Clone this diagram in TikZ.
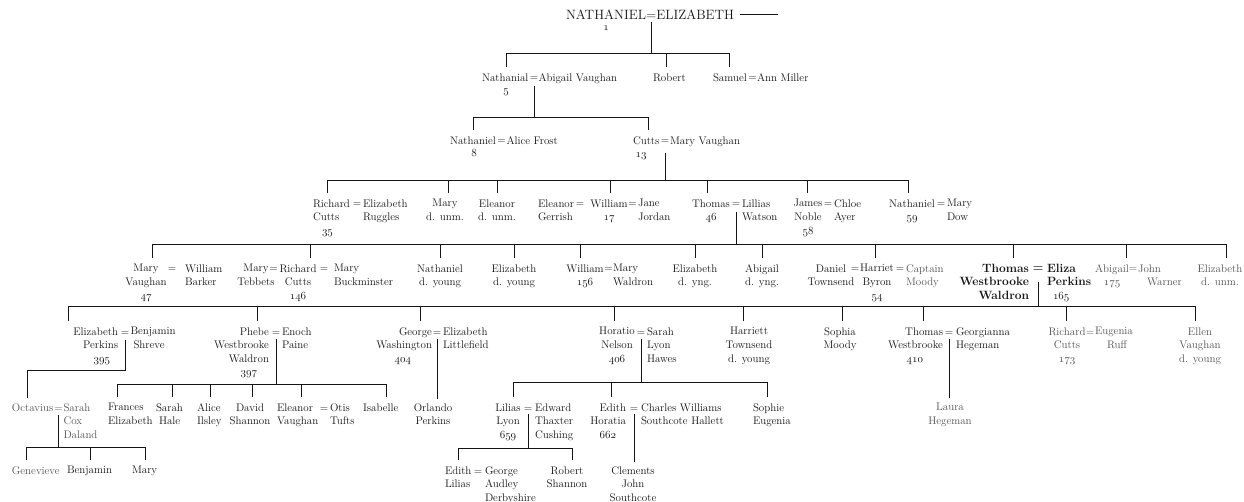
\documentclass[tikz,border=0pt]{standalone}
\colorlet{ink}{black!92}
\colorlet{faint}{black!68}
\newcommand\nf{\fontsize{11}{13.6}\selectfont}
\newcommand\bnf{\fontsize{12}{13.6}\selectfont\bfseries}
\newcommand\osn[1]{$\mathnormal{#1}$}
% a drop line from a bus point down to a child's name
\newcommand\kidline[3]{\coordinate (#1) at (#2);\draw[link,shorten >=6pt] (#1) -- (#1 |- #3.north);}
% a descent line from a marriage sign down to the level of a bus
\newcommand\eqdown[3]{\draw[link,shorten <=#1pt] (#2.south) -- (#2.south |- #3);}
\begin{document}
\begin{tikzpicture}[x=1pt,y=-1pt,
  every node/.style={inner sep=0pt, outer sep=0pt, font=\nf, text=ink},
  % name blocks: placed by the baseline of their first line
  pw/.style={anchor=north west, align=left, yshift=7.6pt},
  pc/.style={anchor=north, align=center, yshift=7.6pt},
  pe/.style={anchor=north east, align=right, yshift=7.6pt},
  bold/.style={font=\bnf, yshift=0.7pt},
  eq/.style={anchor=base},
  num/.style={anchor=base},
  pale/.style={text=faint},
  caps/.style={font=\fontsize{13.5}{15}\selectfont},
  link/.style={draw=ink, line width=0.8pt}]
\fill[white] (0,0) rectangle (1244,502);
\useasboundingbox (0,0) rectangle (1244,502);

% ---------- generation 1
\node[caps,anchor=base west] (topH) at (566,19.5) {NATHANIEL};
\node[caps,anchor=base west] (topEq) at (topH.base east) {=};
\node[caps,anchor=base west] (topW) at (topEq.base east) {ELIZABETH};
\node[num] (one) at (606,31) {\osn{1}};
\coordinate (topEnd) at (778,0);
\draw[link] ([xshift=6pt]topW.east) -- (topEnd |- topW.east);

% ---------- generation 2
\node[pw] (nath1) at (482,81) {Nathanial};
\node[eq] (e1) at (534,81) {=};
\node[pw] (abig) at (538.5,81) {Abigail Vaughan};
\node[num] (n5) at (506,94) {\osn{5}};
\node[pw] (robert) at (653,81) {Robert};
\node[pw] (samuel) at (713,81) {Samuel};
\node[eq] (e2) at (752.5,81) {=};
\node[pw] (ann) at (757,81) {Ann Miller};

% ---------- generation 3
\node[pw] (nath2) at (450,144) {Nathaniel};
\node[eq] (e3) at (501.5,144) {=};
\node[pw] (alice) at (506.5,144) {Alice Frost};
\node[num] (n8) at (474,157) {\osn{8}};
\node[pw] (cutts) at (633,144) {Cutts};
\node[eq] (e4) at (665,144) {=};
\node[pw] (maryV) at (670,144) {Mary Vaughan};
\node[num] (n13) at (641,158) {\osn{13}};

% ---------- generation 4
\node[pw] (rich) at (313,207) {Richard\\Cutts\\\hspace*{9pt}\osn{35}};
\node[eq] (e5) at (357,207) {=};
\node[pw] (elizR) at (363,207) {Elizabeth\\Ruggles};
\node[pc] (maryU) at (445,207) {Mary\\d. unm.};
\node[pc] (eleU) at (497,207) {Eleanor\\d. unm.};
\node[pw] (eleG) at (538,207) {Eleanor\\Gerrish};
\node[eq] (e6) at (580,207) {=};
\node[pc] (william) at (609,207) {William\\\osn{17}};
\node[eq] (e7) at (632.5,207) {=};
\node[pw] (jane) at (638,207) {Jane\\Jordan};
\node[pc] (thomL) at (711,207) {Thomas\\\osn{46}};
\node[eq] (e8) at (736,207) {=};
\node[pw] (lill) at (742,207) {Lillias\\Watson};
\node[pc] (james) at (808,207) {James\\Noble\\\osn{58}};
\node[eq] (e9) at (828,207) {=};
\node[pw] (chloe) at (834,207) {Chloe\\Ayer};
\node[pc] (nathM) at (912,207) {Nathaniel\\\osn{59}};
\node[eq] (e10) at (941,207) {=};
\node[pw] (maryD) at (947,207) {Mary\\Dow};

% ---------- generation 5
\node[pc] (maryVa) at (146,272) {Mary\\Vaughan\\\osn{47}};
\node[eq] (e11) at (172,272) {=};
\node[pw] (willB) at (185,272) {William\\Barker};
\node[pc] (maryT) at (256,272) {Mary\\Tebbets};
\node[eq] (e12) at (273.5,272) {=};
\node[pc] (richC) at (298,272) {Richard\\Cutts\\\osn{146}};
\node[eq] (e13) at (324,272) {=};
\node[pw] (maryB) at (334,272) {Mary\\Buckminster};
\node[pc] (nathY) at (440,272) {Nathaniel\\d. young};
\node[pc] (elizY) at (514,272) {Elizabeth\\d. young};
\node[pc] (willW) at (585,272) {William\\\osn{156}};
\node[eq] (e14) at (608.5,272) {=};
\node[pw] (maryW) at (613,272) {Mary\\Waldron};
\node[pc] (elizYng) at (695,272) {Elizabeth\\d. yng.};
\node[pc] (abigYng) at (762,272) {Abigail\\d. yng.};
\node[pc] (daniel) at (831,272) {Daniel\\Townsend};
\node[eq] (e15) at (855,272) {=};
\node[pc] (harriet) at (877,272) {Harriet\\Byron\\\osn{54}};
\node[eq] (e16) at (900,272) {=};
\node[pw,pale] (capt) at (906,272) {Captain\\Moody};
\node[pe,bold] (thomW) at (1029,272) {Thomas\\Westbrooke\\Waldron};
\node[eq,font=\bnf] (e17) at (1038,272) {=};
\node[pw,bold] (eliza) at (1047,272) {Eliza\\Perkins\\{\nf\mdseries\hspace*{6pt}\osn{165}}};
\node[pc,pale] (abigW) at (1112,272) {Abigail\\\osn{175}};
\node[eq,pale] (e18) at (1133,272) {=};
\node[pw,pale] (john) at (1138,272) {John\\\hspace*{9pt}Warner};
\node[pc,pale] (elizU) at (1220,272) {Elizabeth\\d. unm.};

% ---------- generation 6
\node[pe] (elizP) at (118,335) {Elizabeth\\Perkins\\\osn{395}\hspace*{8pt}};
\node[eq] (e19) at (125,335) {=};
\node[pw] (benj) at (130.5,335) {Benjamin\\\hspace*{3pt}Shreve};
\node[pe] (phebe) at (269,335) {Phebe\\Westbrooke\\Waldron\\\osn{397}\hspace*{12pt}};
\node[eq] (e20) at (276,335) {=};
\node[pw] (enoch) at (282,335) {Enoch\\Paine};
\node[pe] (george) at (432,335) {George\\Washington\\\osn{404}\hspace*{21pt}};
\node[eq] (e21) at (437,335) {=};
\node[pw] (elizL) at (443,335) {Elizabeth\\Littlefield};
\node[pc] (horatio) at (617,335) {Horatio\\Nelson\\\osn{406}};
\node[eq] (e22) at (641,335) {=};
\node[pw] (sarahL) at (647,335) {Sarah\\Lyon\\Hawes};
\node[pc] (harriett) at (749,335) {Harriett\\Townsend\\d. young};
\node[pc] (sophia) at (840,335) {Sophia\\Moody};
\node[pe] (thomG) at (943,335) {Thomas\\Westbrooke\\\osn{410}\hspace*{20pt}};
\node[eq] (e23) at (949,335) {=};
\node[pw] (georg) at (956,335) {Georgianna\\Hegeman};
\node[pc,pale] (richE) at (1067,335) {Richard\\Cutts\\\osn{173}};
\node[eq,pale] (e24) at (1090,335) {=};
\node[pw,pale] (eug) at (1095,335) {Eugenia\\\hspace*{12pt}Ruff};
\node[pc,pale] (ellen) at (1200,335) {Ellen\\Vaughan\\d. young};

% ---------- generation 7
\node[pw,pale] (octav) at (12,411) {Octavius};
\node[eq,pale] (e25) at (58.5,411) {=};
\node[pw,pale] (sarahC) at (63.5,411) {Sarah\\Cox\\Daland};
\node[pw] (frances) at (108,411) {Frances\\Elizabeth};
\node[pw] (sarahH) at (156,411) {Sarah\\\hspace*{3pt}Hale};
\node[pw] (alice2) at (197,411) {Alice\\Ilsley};
\node[pc] (david) at (250,411) {David\\Shannon};
\node[pw] (eleV) at (277,411) {Eleanor\\Vaughan};
\node[eq] (e26) at (324,411) {=};
\node[pw] (otis) at (330,411) {Otis\\Tufts};
\node[pw] (isab) at (363,411) {Isabelle};
\node[pc] (orlando) at (433,411) {Orlando\\Perkins};
\node[pc] (lilias) at (508,411) {Lilias\\Lyon\\\osn{659}};
\node[eq] (e27) at (528,411) {=};
\node[pw] (edward) at (535,411) {Edward\\Thaxter\\Cushing};
\node[pe] (edithH) at (626,411) {Edith\\Horatia\\\osn{662}\hspace*{10pt}};
\node[eq] (e28) at (634,411) {=};
\node[pw] (charles) at (641,411) {Charles Williams\\Southcote Hallett};
\node[pw] (sophie) at (753,411) {Sophie\\Eugenia};
\node[pc,pale] (laura) at (950,411) {Laura\\Hegeman};

% ---------- generation 8
\node[pw,pale] (genev) at (12,474) {Genevieve};
\node[pw] (benjG) at (67,474) {Benjamin};
\node[pw] (maryG) at (132,474) {Mary};
\node[pw] (edithL) at (445,474) {Edith\\Lilias};
\node[eq] (e29) at (478,474) {=};
\node[pw] (georgeA) at (485,474) {George\\Audley\\Derbyshire};
\node[pc] (robert2) at (567,474) {Robert\\Shannon};
\node[pc] (clem) at (633,474) {Clements\\John\\Southcote};

% ---------- lines of descent
% children of Nathaniel and Elizabeth
\kidline{k11}{506,53}{nath1}
\kidline{k12}{666,53}{robert}
\kidline{k13}{729,53}{samuel}
\draw[link] (k11) -- (k13);
\eqdown{3}{topEq}{k11}

% children of Nathanial and Abigail
\kidline{k21}{473,117}{nath2}
\kidline{k22}{648,117}{cutts}
\draw[link] (k21) -- (k22);
\eqdown{5}{e1}{k21}

% children of Cutts and Mary
\kidline{k31}{327,180}{rich}
\kidline{k32}{448,180}{maryU}
\kidline{k33}{497,180}{eleU}
\kidline{k34}{610,180}{william}
\kidline{k35}{707,180}{thomL}
\kidline{k36}{807,180}{james}
\kidline{k37}{908,180}{nathM}
\draw[link] (k31) -- (k37);
\eqdown{9}{e4}{k31}

% children of Thomas and Lillias
\kidline{k41}{152,244}{maryVa}
\kidline{k42}{310,244}{richC}
\kidline{k43}{440,244}{nathY}
\kidline{k44}{514,244}{elizY}
\kidline{k45}{580,244}{willW}
\kidline{k46}{695,244}{elizYng}
\kidline{k47}{762,244}{abigYng}
\kidline{k48}{875,244}{harriet}
\kidline{k49}{1013,244}{thomW}
\kidline{k410}{1126,244}{abigW}
\kidline{k411}{1226,244}{elizU}
\draw[link] (k41) -- (k411);
\eqdown{5}{e8}{k41}

% children of Thomas Westbrooke Waldron and Eliza
\kidline{k51}{68,306}{elizP}
\kidline{k52}{257,306}{phebe}
\kidline{k53}{420,306}{george}
\kidline{k54}{614,306}{horatio}
\kidline{k55}{743,306}{harriett}
\kidline{k56}{842,306}{sophia}
\kidline{k57}{923,306}{thomG}
\kidline{k58}{1066,306}{richE}
\kidline{k59}{1195,306}{ellen}
\draw[link] (k51) -- (k59);
\eqdown{10}{e17}{k51}

% son of Elizabeth and Benjamin
\coordinate (bend) at (27,370);
\draw[link,shorten <=5pt,shorten >=5pt] (e19.south) |- (bend) -- (bend |- octav.north);

% children of Phebe and Enoch
\kidline{k61}{117,384}{frances}
\kidline{k62}{172,384}{sarahH}
\kidline{k63}{210,384}{alice2}
\kidline{k64}{252,384}{david}
\kidline{k65}{301,384}{eleV}
\kidline{k66}{386,384}{isab}
\draw[link] (k61) -- (k66);
\eqdown{4}{e20}{k61}

% son of George and Elizabeth
\draw[link,shorten <=4pt,shorten >=4pt] (e21.south) -- (e21.south |- orlando.north);

% children of Horatio and Sarah
\kidline{k71}{513,382}{lilias}
\kidline{k72}{611,382}{edithH}
\kidline{k73}{767,382}{sophie}
\draw[link] (k71) -- (k73);
\eqdown{4}{e22}{k71}

% daughter of Thomas and Georgianna
\draw[link,shorten <=4pt,shorten >=5pt] (e23.south) -- (e23.south |- laura.north);

% children of Octavius and Sarah
\kidline{k81}{26,447}{genev}
\kidline{k82}{90,447}{benjG}
\kidline{k83}{145,447}{maryG}
\draw[link] (k81) -- (k83);
\eqdown{4}{e25}{k81}

% children of Lilias and Edward
\kidline{k91}{458,448}{edithL}
\kidline{k92}{572,448}{robert2}
\draw[link] (k91) -- (k92);
\eqdown{3}{e27}{k91}

% son of Edith and Charles
\draw[link,shorten <=3pt,shorten >=4pt] (e28.south) -- (e28.south |- clem.north);
\end{tikzpicture}
\end{document}
